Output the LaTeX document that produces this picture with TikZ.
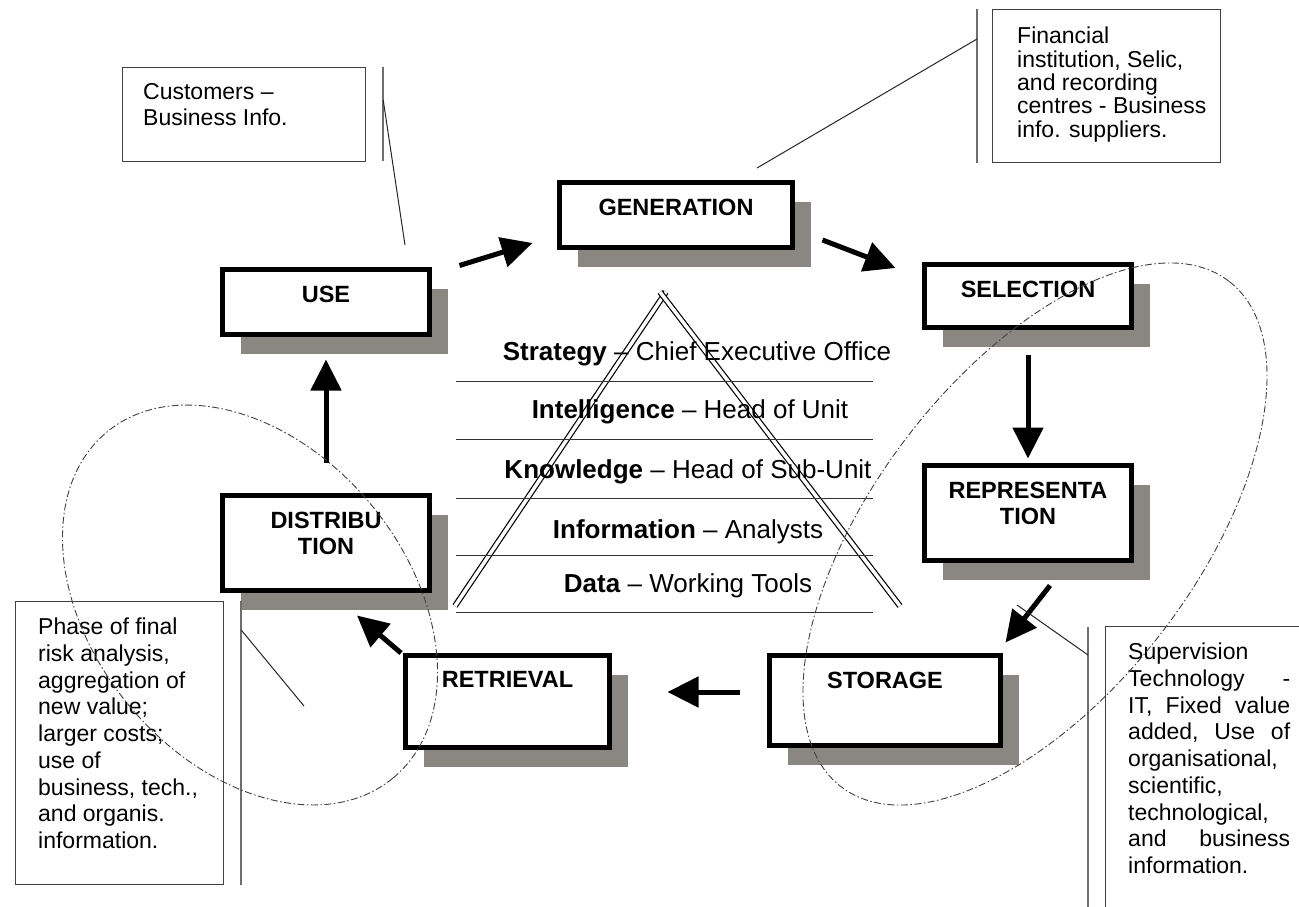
\documentclass[tikz,border=0pt]{standalone}
\usepackage{fontspec}
\setmainfont{Liberation Sans}
\usepackage{tikz}
\usetikzlibrary{arrows.meta,shadows,positioning,calc}
\definecolor{shadowgray}{RGB}{138,134,130}
\definecolor{bargray}{RGB}{110,110,110}
\tikzstyle{stage}=[draw=black,line width=5pt,fill=white,inner sep=0pt,drop shadow={shadow xshift=18pt,shadow yshift=-19pt,fill=shadowgray,opacity=1}]
\tikzstyle{stage label}=[inner sep=0pt,align=center,font=\fontsize{23.5}{26.7}\selectfont\bfseries]
\tikzstyle{flow}=[draw,line width=5pt,-{Triangle[length=31pt,width=30pt]}]
\tikzstyle{pyramid}=[draw,line width=1.2pt,double,double distance=3.5pt]
\tikzstyle{rung}=[draw=black!80,line width=1pt]
\tikzstyle{tier}=[inner sep=0pt,font=\fontsize{26}{30}\selectfont]
\tikzstyle{note}=[draw=black!75,line width=1.2pt,inner sep=0pt,anchor=north west]
\tikzstyle{note text}=[inner sep=0pt,anchor=north west,align=left,font=\fontsize{23}{26.7}\selectfont]
\tikzstyle{accent bar}=[draw=bargray,line width=2pt]
\tikzstyle{leader}=[draw=black!85,line width=1pt]
\tikzstyle{phase zone}=[draw=black!75,line width=0.9pt,dash pattern=on 7pt off 2.5pt on 1.5pt off 2.5pt]

\begin{document}
\begin{tikzpicture}[x=1pt,y=-1pt]
    \useasboundingbox (0,0) rectangle (1299,907);
    \clip (0,0) rectangle (1299,907);

    % First we draw the stages with their shadows
    \foreach \pos/\name/\w/\h in {{(326,302)/use/207/65}, {(676,215)/gen/233/65}, {(1028,296)/sel/207/63}, {(1028,513)/rep/207/95}, {(885,700.5)/sto/231/90}, {(507.5,701.5)/ret/204/92}, {(326,543)/dis/207/95}}
        \node[stage,minimum width=\w pt,minimum height=\h pt] (\name) at \pos {};

    \foreach \name/\lbl in {use/USE, gen/GENERATION, sel/SELECTION, rep/{REPRESENTA\\TION}, sto/STORAGE, ret/RETRIEVAL, dis/{DISTRIBU\\TION}}
        \node[stage label,below=18.5pt of \name.north] (\name-lbl) {\lbl};

    % Connect the stages with arrows
    \draw[flow] ($(use.north east)+(27.5,-1.5)$) -- ($(gen.west)+(-24.5,28)$);
    \draw[flow] ($(gen.east)+(27.5,25)$) -- ($(sel.west)+(-26.5,-28)$);
    \draw[flow] ($(sel.south)+(0,25)$) -- ($(rep.north)+(0,-4.5)$);
    \draw[flow] ($(rep.south)+(22,22.5)$) -- ($(sto.north east)+(2.5,-10.5)$);
    \draw[flow] ($(sto.west)+(-27.5,-8.5)$) -- ($(ret.east)+(55.5,-9.5)$);
    \draw[flow] ($(ret.north west)+(-2,0)$) -- ($(dis.south)+(31,22.5)$);
    \draw[flow] ($(dis.north)+(0,-30.5)$) -- ($(use.south)+(0,22.5)$);

    % The pyramid of levels
    \coordinate (apex) at (663,293);
    \coordinate (base-l) at (455,606);
    \coordinate (base-r) at (900,606);
    \draw[pyramid] (base-l) -- ($(apex)+(3,-1)$);
    \draw[pyramid] ($(apex)+(-3,-1)$) -- (base-r);
    \foreach \y in {381,439,498,555,612}
        \draw[rung] (456,\y) -- (873,\y);
    \foreach \x/\y/\term/\role in {697/360/Strategy/Chief Executive Office, 690/418/Intelligence/Head of Unit, 688/478/Knowledge/Head of Sub-Unit, 688/538/Information/Analysts, 688/592/Data/Working Tools}
        \node[tier,anchor=base] (\term) at (\x,\y) {\textbf{\term} – \role};

    % Callouts with their bars and leaders
    \node[note,minimum width=243pt,minimum height=94pt] (cust) at (122,67) {};
    \node[note text,below right=16pt and 21pt of cust.north west] (cust-txt) {Customers –\\Business Info.};
    \coordinate (cust-end) at (405,245);
    \draw[accent bar] ($(cust.north east)+(17,0)$) -- ($(cust.south east)+(17,-1)$);
    \draw[leader] ($(cust.north east)+(17,33)$) -- (cust-end);

    \node[note,minimum width=228pt,minimum height=153pt] (fin) at (992,9) {};
    \node[note text,font=\fontsize{23}{23.3}\selectfont,below right=18pt and 25pt of fin.north west] (fin-txt) {Financial\\institution, Selic,\\and recording\\centres - Business\\info. suppliers.};
    \coordinate (fin-end) at (757,168);
    \draw[accent bar] ($(fin.north west)+(-15,0)$) -- ($(fin.south west)+(-15,0)$);
    \draw[leader] ($(fin.north west)+(-15,30)$) -- (fin-end);

    \node[note,minimum width=208pt,minimum height=283pt] (phase) at (15,601) {};
    \node[note text,below right=17pt and 23pt of phase.north west] (phase-txt) {Phase of final\\risk analysis,\\aggregation of\\new value;\\larger costs;\\use of\\business, tech.,\\and organis.\\information.};
    \coordinate (phase-end) at (304,706);
    \draw[accent bar] ($(phase.north east)+(17,0)$) -- ($(phase.south east)+(17,0)$);
    \draw[leader] ($(phase.north east)+(17,29)$) -- (phase-end);

    \node[note,minimum width=210pt,minimum height=300pt] (sup) at (1105,626) {};
    \node[note text,text width=162pt,below right=17pt and 23pt of sup.north west] (sup-txt) {Supervision\\Technology\hfill-\\IT,\hfill Fixed\hfill value\\added,\hfill Use\hfill of\\organisational,\\scientific,\\technological,\\and\hfill business\\information.};
    \coordinate (sup-end) at (1017,605);
    \draw[accent bar] ($(sup.north west)+(-17,1)$) -- ($(sup.south west)+(-17,0)$);
    \draw[leader] ($(sup.north west)+(-17,29)$) -- (sup-end);

    % Dash-dot zones round the two phases
    \draw[phase zone,rotate around={-50.4:(250,605)}] (250,605) ellipse [x radius=224.5pt,y radius=157.3pt];
    \draw[phase zone,rotate around={52.5:(1035,534)}] (1035,534) ellipse [x radius=318.6pt,y radius=160.5pt];
\end{tikzpicture}
\end{document}
